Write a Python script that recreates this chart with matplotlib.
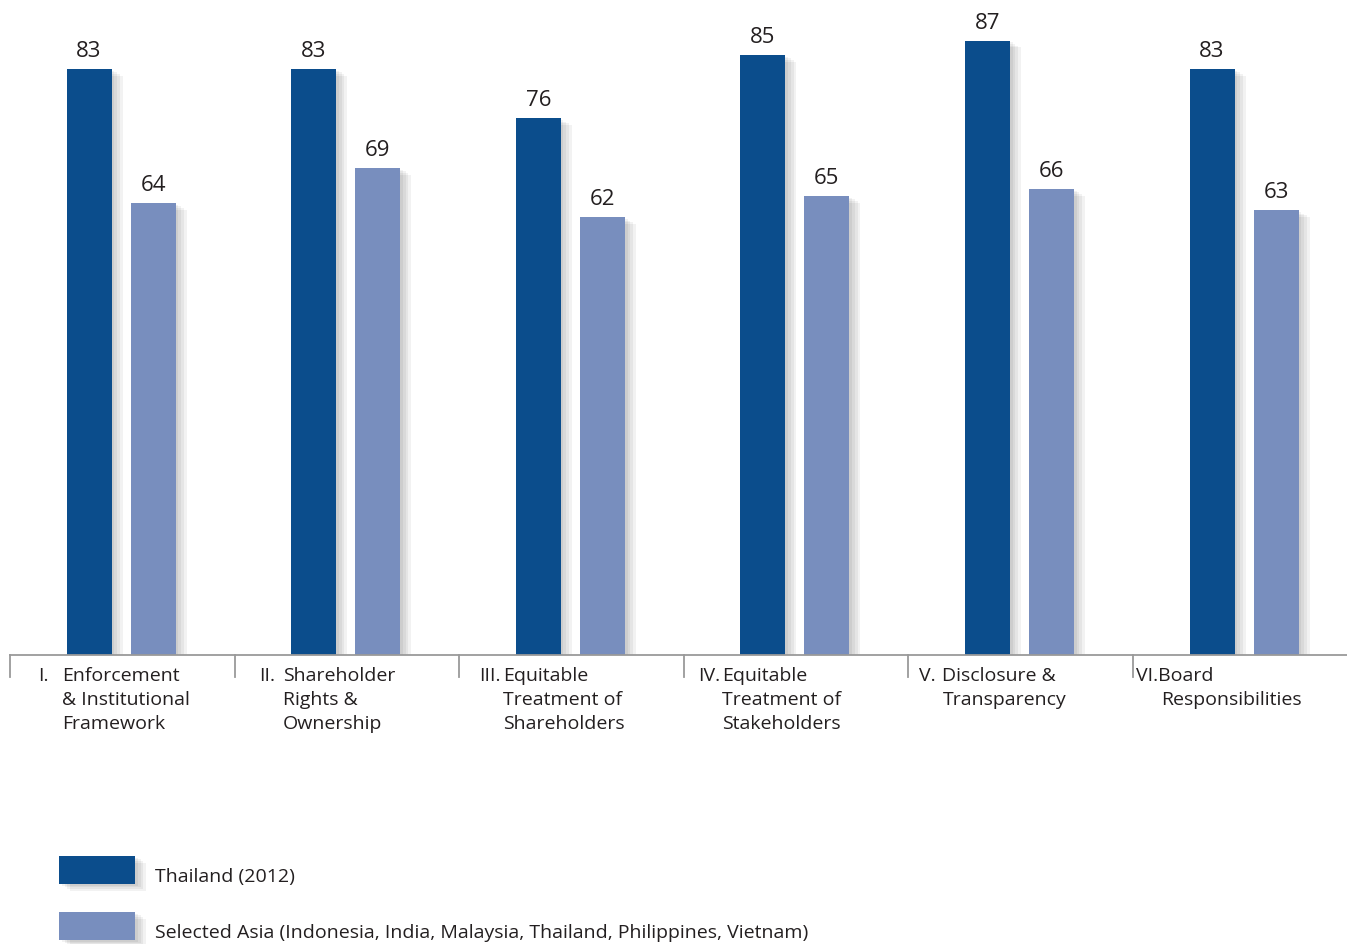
import numpy as np
import matplotlib
matplotlib.use('Agg')
import matplotlib.pyplot as plt
import matplotlib.patheffects as pe
from matplotlib.patches import Rectangle
from matplotlib.transforms import blended_transform_factory

numerals = ['I.', 'II.', 'III.', 'IV.', 'V.', 'VI.Board']
categories = ['Enforcement\n& Institutional\nFramework',
              'Shareholder\nRights &\nOwnership',
              'Equitable\nTreatment of\nShareholders',
              'Equitable\nTreatment of\nStakeholders',
              'Disclosure &\nTransparency',
              'Responsibilities']
first_line = [0, 0, 0, 0, 0, 1]   # label text starts on this line under the numeral
thailand = [83, 83, 76, 85, 87, 83]
asia = [64, 69, 62, 65, 66, 63]
series_names = ['Thailand (2012)',
                'Selected Asia (Indonesia, India, Malaysia, Thailand, Philippines, Vietnam)']

dark = '#0B4D8C'
light = '#788EBE'
grid_c = '#9A9A9A'
txt_c = '#231F20'

plt.rcParams['font.family'] = ['Open Sans', 'DejaVu Sans']

fig = plt.figure(figsize=(13.47, 9.44), dpi=100)
ax = fig.add_axes([10/1347, 1 - 655/944, 1 - 10/1347, 655/944])
ax.set_xlim(0, 1337/224.6)
ax.set_ylim(0, 655/7.06)
ax.axis('off')

x = np.arange(len(categories))
# soft drop shadow
shadow = [pe.SimplePatchShadow(offset=(k, -k*0.6), shadow_rgbFace='#000000', alpha=0.05)
          for k in (2, 4, 6, 8)] + [pe.Normal()]
b1 = ax.bar(x + 0.352, thailand, width=0.2, color=dark, path_effects=shadow, zorder=3)
b2 = ax.bar(x + 0.637, asia, width=0.2, color=light, path_effects=shadow, zorder=3)
for bars, vals in ((b1, thailand), (b2, asia)):
    for r, v in zip(bars, vals):
        ax.text(r.get_x() + r.get_width() / 2, v + 1.0, str(v), ha='center', va='bottom',
                fontsize=16, color=txt_c)

# baseline and group separators
ax.axhline(0, color=grid_c, lw=1.3, zorder=4, clip_on=False)
tr = blended_transform_factory(ax.transData, ax.transAxes)
for i in x:
    ax.plot([i, i], [0, -22/655], color=grid_c, lw=1.3, transform=tr, clip_on=False)

num_off = [28, 25, 20, 14, 11, 3]
txt_off = [52, 48, 44, 38, 34, 28]
for i in x:
    ax.text(i + num_off[i]/224.6, -12/655, numerals[i], transform=tr, ha='left', va='top',
            fontsize=14, color=txt_c)
    ax.text(i + txt_off[i]/224.6, -(12 + 24*first_line[i])/655, categories[i], transform=tr,
            ha='left', va='top', fontsize=14, color=txt_c, linespacing=1.42)

# legend
for j, (c, name) in enumerate(zip([dark, light], series_names)):
    y0 = 1 - (884 + 56*j)/944
    fig.patches.append(Rectangle((59/1347, y0), 76/1347, 28/944, transform=fig.transFigure,
                                 facecolor=c, edgecolor='none', path_effects=shadow))
    fig.text(155/1347, 1 - (877 + 56*j)/944, name, ha='left', va='center', fontsize=14, color=txt_c)

fig.savefig('out.png', dpi=100)
